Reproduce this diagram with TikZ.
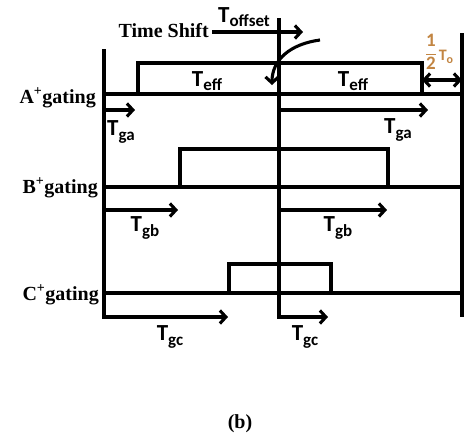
\documentclass[tikz,border=0pt]{standalone}
\usepackage{fontspec}
\setmainfont{Liberation Serif}
\newfontfamily\calib{Carlito}
\usetikzlibrary{arrows.meta}
\definecolor{fraccol}{rgb}{0.76,0.52,0.26}
\newcommand\TL[1]{{\calib\bfseries\fontsize{23}{23}\selectfont T\raisebox{-4.5pt}{\fontsize{17}{17}\selectfont #1}}}
\tikzset{
  wire/.style={line width=3.1pt, line cap=butt, line join=miter},
  arr/.style={wire, -{Straight Barb[length=6pt,width=13pt]}},
  darr/.style={wire, {Straight Barb[length=6pt,width=13pt]}-{Straight Barb[length=6pt,width=13pt]}},
  serl/.style={inner sep=0pt, font=\bfseries\fontsize{20}{20}\selectfont},
  tlab/.style={inner sep=0pt},
}
\begin{document}
\begin{tikzpicture}[x=1pt,y=-1pt]
\useasboundingbox (0,0) rectangle (467,437);
% vertical lines
\coordinate (Ltop) at (104,49);  \coordinate (Lbot) at (104,317);
\coordinate (Mtop) at (279,18);  \coordinate (Mbot) at (279,317);
\coordinate (Rtop) at (462,33);  \coordinate (Rbot) at (462,317);
% A gating
\coordinate (A0) at (104,94); \coordinate (A1) at (138,94); \coordinate (A2t) at (422,63); \coordinate (A3) at (462,94);
% B gating
\coordinate (B0) at (104,187); \coordinate (B1) at (180,187); \coordinate (B2t) at (388,149); \coordinate (B3) at (462,187);
% C gating
\coordinate (C0) at (104,293); \coordinate (C1) at (229,293); \coordinate (C2t) at (331,264); \coordinate (C3) at (462,293);

\draw[wire] (Rtop) -- (Rbot);
\draw[wire] (A0) -- (A3);
\draw[wire] (A1) rectangle (A2t);
\draw[wire] (B0) -- (B3);
\draw[wire] (B1) rectangle (B2t);
\draw[wire] (C0) -- (C3);
\draw[wire] (C1) rectangle (C2t);

% arrows
\coordinate (gaL) at (104,110); \coordinate (gaLe) at (135,110);
\coordinate (gaR) at (279,110); \coordinate (gaRe) at (428,110);
\coordinate (gbL) at (104,210); \coordinate (gbLe) at (178,210);
\coordinate (gbR) at (279,210); \coordinate (gbRe) at (387,210);
\coordinate (gcLe) at (228,317); \coordinate (gcRe) at (328,317);
\draw[arr] (Ltop) -- (Lbot) -- (gcLe);
\draw[arr] (Mtop) -- (Mbot) -- (gcRe);
\draw[arr] (gaL) -- (gaLe);
\draw[arr] (gaR) -- (gaRe);
\draw[arr] (gbL) -- (gbLe);
\draw[arr] (gbR) -- (gbRe);

% time shift
\node[serl, anchor=base east] (ts) at (209,37) {Time Shift};
\coordinate (tse) at (303,32);
\draw[arr] (ts.east |- tse) ++(3,0) coordinate (tss) -- (tse);
\node[tlab] (toff) at (244,17) {\TL{offset}};
\coordinate (cs) at (320,40); \coordinate (ce) at (272,85);
\draw[arr] (cs) .. controls (290,44) and (272,60) .. (ce);

% half period
\coordinate (hp0) at (422,80); \coordinate (hp1) at (462,80);
\draw[darr] (hp0) -- (hp1);
\node[inner sep=0pt, text=fraccol] (frac) at (431,52) {\calib\bfseries\fontsize{19}{19}\selectfont$\displaystyle\frac{\mbox{1}}{\mbox{2}}$};
\node[inner sep=0pt, text=fraccol] (To) at (446,57) {\calib\bfseries\fontsize{16}{16}\selectfont T\raisebox{-2.5pt}{\fontsize{12}{12}\selectfont o}};

% labels
\node[tlab] (teff1) at (207,81) {\TL{eff}};
\node[tlab] (teff2) at (353,81) {\TL{eff}};
\node[tlab] (ga1) at (121,132) {\TL{ga}};
\node[tlab] (ga2) at (398,130) {\TL{ga}};
\node[tlab] (gb1) at (145,228) {\TL{gb}};
\node[tlab] (gb2) at (338,228) {\TL{gb}};
\node[tlab] (gc1) at (170,337) {\TL{gc}};
\node[tlab] (gc2) at (305,337) {\TL{gc}};

\node[serl, anchor=base east] (la) at (96,103) {A\textsuperscript{+}gating};
\node[serl, anchor=base east] (lb) at (98,193) {B\textsuperscript{+}gating};
\node[serl, anchor=base east] (lc) at (99,300) {C\textsuperscript{+}gating};
\node[serl] (cap) at (240,424) {(b)};
\end{tikzpicture}
\end{document}
